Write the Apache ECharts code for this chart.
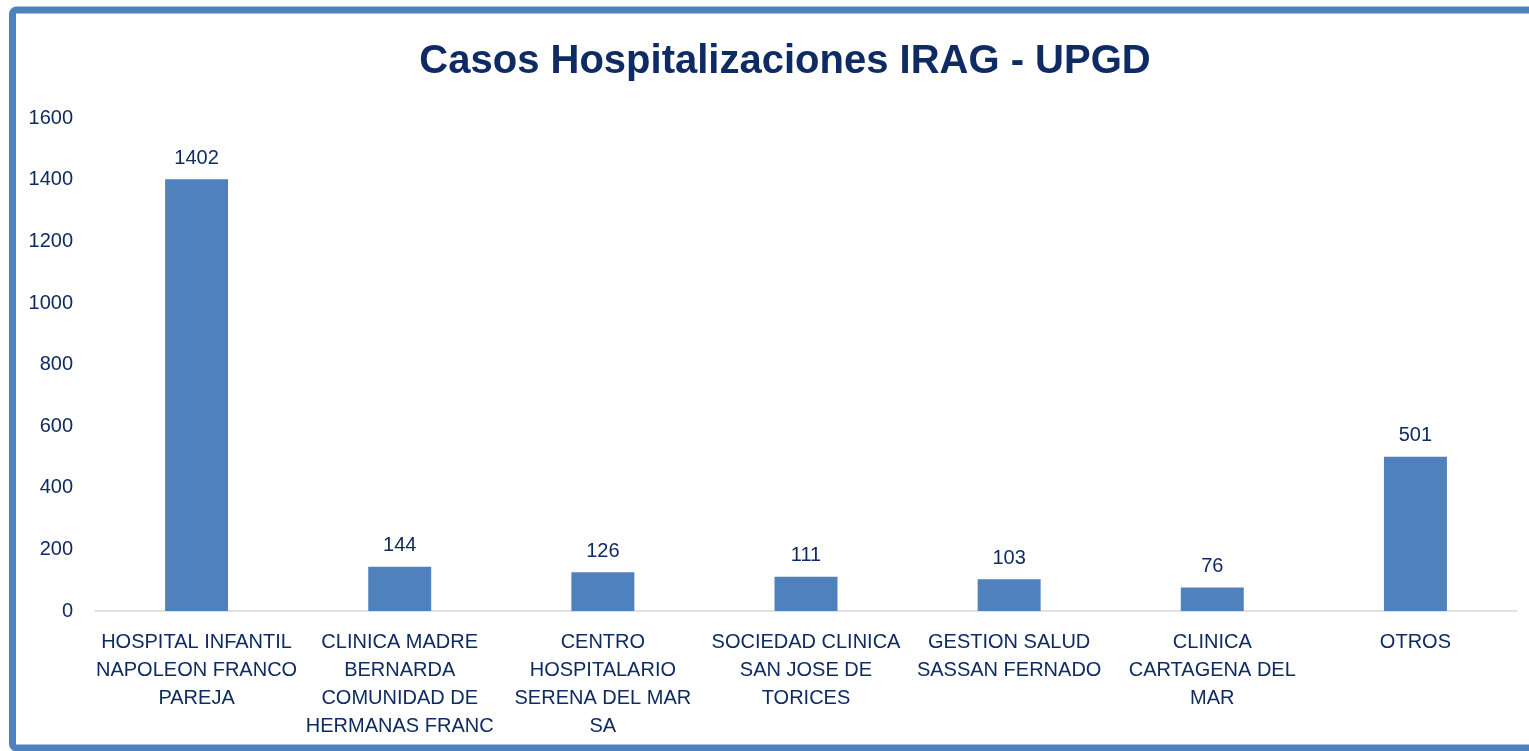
<!DOCTYPE html>
<html><head><meta charset="utf-8">
<script src="https://cdn.jsdelivr.net/npm/echarts@6/dist/echarts.min.js"></script>
<style>html,body{margin:0;padding:0;background:#fff}#c{width:1529px;height:751px}</style>
</head><body><div id="c"></div>
<script>
const categories = [
  "HOSPITAL INFANTIL\nNAPOLEON FRANCO\nPAREJA",
  "CLINICA MADRE\nBERNARDA\nCOMUNIDAD DE\nHERMANAS FRANC",
  "CENTRO\nHOSPITALARIO\nSERENA DEL MAR\nSA",
  "SOCIEDAD CLINICA\nSAN JOSE DE\nTORICES",
  "GESTION SALUD\nSASSAN FERNADO",
  "CLINICA\nCARTAGENA DEL\nMAR",
  "OTROS"
];
const values = [1402, 144, 126, 111, 103, 76, 501];
const yTicks = [0, 200, 400, 600, 800, 1000, 1200, 1400, 1600];

const FONT = '"Liberation Sans Narrow", "Arial Narrow", "Liberation Sans", sans-serif';
const NAVY = '#0f2b63';
const chart = echarts.init(document.getElementById('c'));
chart.setOption({
  animation: false,
  backgroundColor: '#fff',
  title: {
    text: 'Casos Hospitalizaciones IRAG - UPGD',
    left: 780, top: 37, textAlign: 'center',
    textStyle: { fontFamily: FONT, fontSize: 40, fontWeight: 'bold', color: NAVY }
  },
  graphic: [{
    type: 'rect', shape: { x: 12.5, y: 10, width: 1540, height: 738, r: 4 },
    style: { fill: 'none', stroke: '#4f81bd', lineWidth: 7 }, z: 100
  }],
  grid: { left: 95, right: 12, top: 118.4, bottom: 140 },
  xAxis: {
    type: 'category', data: categories,
    axisLine: { lineStyle: { color: '#d9d9d9', width: 1.5 } },
    axisTick: { show: false },
    axisLabel: { interval: 0, margin: 17, color: NAVY, fontFamily: FONT, fontSize: 20, lineHeight: 28 }
  },
  yAxis: {
    type: 'value', min: 0, max: yTicks[yTicks.length - 1], interval: 200,
    axisLine: { show: false }, axisTick: { show: false },
    splitLine: { show: false },
    axisLabel: { margin: 22, color: NAVY, fontFamily: FONT, fontSize: 20, formatter: v => String(v) }
  },
  series: [{
    type: 'bar', data: values, barWidth: '31%',
    itemStyle: { color: '#4f81bd' },
    label: { show: true, position: 'top', distance: 11, color: NAVY, fontFamily: FONT, fontSize: 20 }
  }]
});
</script></body></html>
